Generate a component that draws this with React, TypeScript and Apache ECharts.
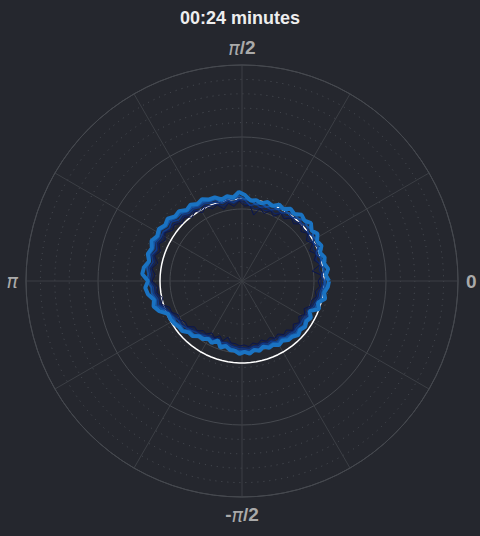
import React, { useEffect, useRef } from "react";
import * as echarts from "echarts";

// angle of every sample, degrees (0 = right, counter-clockwise)
const angles = [
  0, 4, 8, 12, 16, 20, 24, 28, 32, 36, 40, 44, 48, 52, 56, 60, 64, 68, 72, 76,
  80, 84, 88, 92, 96, 100, 104, 108, 112, 116, 120, 124, 128, 132, 136, 140,
  144, 148, 152, 156, 160, 164, 168, 172, 176, 180, 184, 188, 192, 196, 200,
  204, 208, 212, 216, 220, 224, 228, 232, 236, 240, 244, 248, 252, 256, 260,
  264, 268, 272, 276, 280, 284, 288, 292, 296, 300, 304, 308, 312, 316, 320,
  324, 328, 332, 336, 340, 344, 348, 352, 356,
];

// interface radius at successive snapshots (oldest first)
const front1 = [
  76, 80, 71, 80, 75, 79, 74, 80, 76, 81, 77, 82, 77, 80, 75, 78, 72, 76, 71, 75,
  67, 76, 75, 80, 75, 79, 74, 80, 78, 83, 79, 84, 81, 86, 83, 88, 86, 91, 87, 91,
  87, 91, 86, 91, 87, 90, 84, 86, 81, 84, 77, 77, 72, 73, 70, 71, 66, 67, 63, 64,
  60, 63, 59, 63, 58, 63, 63, 65, 64, 66, 63, 65, 62, 65, 63, 66, 64, 68, 66, 71,
  67, 71, 67, 71, 68, 73, 72, 76, 74, 78,
];
const front2 = [
  79, 81, 78, 80, 77, 80, 78, 81, 79, 82, 80, 83, 80, 81, 78, 79, 75, 77, 74, 76,
  73, 77, 78, 81, 78, 80, 77, 81, 81, 84, 82, 85, 84, 87, 86, 89, 89, 92, 90, 92,
  90, 92, 89, 92, 90, 91, 87, 87, 84, 85, 80, 78, 75, 74, 73, 72, 69, 68, 66, 65,
  63, 64, 62, 64, 63, 64, 66, 66, 67, 67, 66, 66, 65, 66, 66, 67, 67, 69, 69, 72,
  70, 72, 70, 72, 71, 74, 75, 77, 77, 80,
];
const front3 = [
  82, 80, 83, 80, 82, 79, 83, 81, 84, 82, 85, 83, 84, 81, 82, 79, 80, 77, 78, 76,
  78, 76, 81, 82, 79, 82, 80, 83, 84, 86, 85, 87, 86, 89, 88, 92, 90, 93, 92, 94,
  91, 94, 91, 94, 92, 93, 89, 89, 86, 87, 82, 79, 77, 75, 75, 73, 71, 69, 68, 66,
  65, 65, 64, 65, 64, 66, 67, 68, 68, 69, 67, 68, 66, 68, 67, 70, 68, 71, 71, 73,
  72, 73, 72, 74, 73, 76, 77, 79, 79, 81,
];
const front4 = [
  83, 85, 82, 84, 82, 84, 83, 85, 84, 87, 85, 87, 84, 85, 82, 83, 80, 81, 78, 80,
  78, 81, 82, 85, 82, 84, 82, 86, 86, 88, 87, 89, 88, 91, 91, 94, 93, 96, 94, 96,
  94, 96, 94, 96, 94, 95, 91, 91, 88, 89, 84, 81, 78, 78, 76, 76, 72, 72, 69, 68,
  66, 67, 65, 67, 66, 68, 69, 70, 70, 71, 69, 70, 68, 70, 69, 71, 70, 72, 73, 75,
  74, 76, 74, 76, 75, 78, 79, 81, 81, 83,
];
const front5 = [
  87, 84, 87, 84, 86, 83, 87, 85, 89, 86, 90, 87, 89, 85, 87, 83, 85, 81, 83, 80,
  82, 81, 86, 89, 84, 86, 84, 88, 88, 91, 89, 92, 90, 94, 93, 97, 95, 98, 96, 99,
  96, 98, 95, 99, 100, 94, 97, 95, 90, 92, 88, 81, 81, 80, 78, 78, 74, 74, 70, 70,
  67, 69, 64, 70, 67, 70, 70, 73, 71, 73, 70, 72, 69, 72, 71, 74, 72, 75, 75, 78,
  76, 78, 76, 78, 74, 82, 79, 85, 83, 86,
];

// starting circle
const initialRadius = 82;

const angleLabels: Record<number, string> = {
  0: "0",
  90: "{i|π}/2",
  180: "{i|π}",
  270: "-{i|π}/2",
};

const fronts = [
  { values: front1, color: "#0a1650", width: 1 },
  { values: front2, color: "#0f2566", width: 1.2 },
  { values: front3, color: "#123a85", width: 1.6 },
  { values: front4, color: "#1552a0", width: 2 },
  { values: front5, color: "#1a73c2", width: 4 },
];

function closed(values: number[]) {
  const pts = values.map((r, i) => [r, angles[i]]);
  pts.push([values[0], 360]);
  return pts;
}

export default function App() {
  const el = useRef<HTMLDivElement>(null);

  useEffect(() => {
    if (!el.current) return;
    const chart = echarts.init(el.current, null, { renderer: "svg" });
    const labelFont = "Liberation Sans";
    chart.setOption({
      animation: false,
      backgroundColor: "#25272e",
      title: {
        text: "00:24 minutes",
        left: "center",
        top: 4,
        textStyle: {
          color: "#eeeeee",
          fontSize: 18,
          fontWeight: "bold",
          fontFamily: labelFont,
        },
      },
      polar: {
        center: [242, 281],
        radius: 216,
      },
      angleAxis: {
        type: "value",
        min: 0,
        max: 360,
        interval: 30,
        startAngle: 0,
        clockwise: false,
        axisLine: { lineStyle: { color: "#46494f", width: 1 } },
        axisTick: { show: false },
        axisLabel: {
          margin: 8,
          color: "#aaaaaa",
          fontSize: 19,
          fontWeight: "bold",
          fontFamily: labelFont,
          formatter: (v: number) => angleLabels[v] ?? "",
          rich: {
            i: {
              color: "#aaaaaa",
              fontSize: 19,
              fontStyle: "italic",
              fontWeight: "normal",
              fontFamily: "DejaVu Sans",
            },
          },
        },
        splitLine: { lineStyle: { color: "#3c3f45", width: 1 } },
      },
      radiusAxis: {
        type: "value",
        min: 0,
        max: 216,
        interval: 72,
        axisLine: { show: false },
        axisTick: { show: false },
        axisLabel: { show: false },
        minorTick: { show: false, splitNumber: 5 },
        splitLine: { lineStyle: { color: "#46494f", width: 1 } },
        minorSplitLine: {
          show: true,
          lineStyle: { color: "#4c5057", width: 1, type: [1, 5] },
        },
      },
      series: [
        {
          type: "line",
          coordinateSystem: "polar",
          symbol: "none",
          silent: true,
          lineStyle: { color: "#ffffff", width: 1.5 },
          data: [...angles, 360].map((a) => [initialRadius, a]),
        },
        ...fronts.map((f) => ({
          type: "line",
          coordinateSystem: "polar",
          symbol: "none",
          silent: true,
          lineStyle: { color: f.color, width: f.width },
          data: closed(f.values),
        })),
      ],
    });
    return () => chart.dispose();
  }, []);

  return (
    <div
      ref={el}
      style={{ position: "fixed", left: 0, top: 0, width: 480, height: 536 }}
    />
  );
}
